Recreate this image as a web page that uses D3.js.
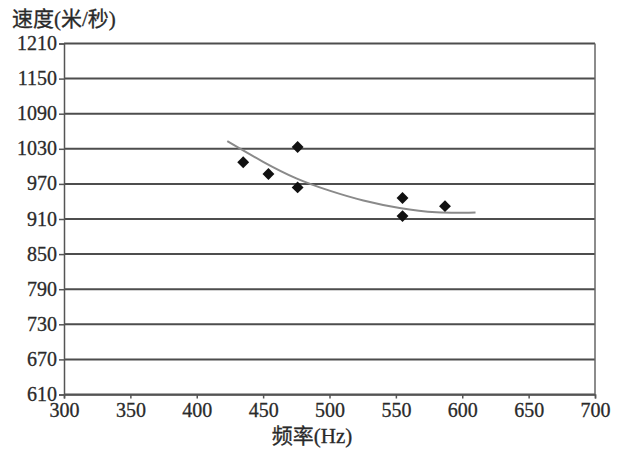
<!DOCTYPE html>
<html><head><meta charset="utf-8">
<script src="https://cdn.jsdelivr.net/npm/d3@7"></script>
<style>body{margin:0;background:#fff}svg{display:block}</style>
</head><body>
<script>
// Data
const xTicks = [300,350,400,450,500,550,600,650,700];
const yTicks = [610,670,730,790,850,910,970,1030,1090,1150,1210];
const freq  = [435, 454, 476, 476, 555, 555, 587];
const speed = [1007, 987, 1033, 964, 946, 915, 932];
const trendFreq  = [423, 450, 475, 500, 525, 553, 580, 610];
const trendSpeed = [1043, 1007, 978, 958, 941, 928, 920, 921];
const yTitle = "速度(米/秒)";
const xTitle = "频率(Hz)";

const W = 624, H = 452;
const m = {left:64, right:29, top:43.5, bottom:57.5};
const svg = d3.select("body").append("svg").attr("width",W).attr("height",H);
const x = d3.scaleLinear().domain([300,700]).range([m.left, W-m.right]);
const y = d3.scaleLinear().domain([610,1210]).range([H-m.bottom, m.top]);
const font = "'Liberation Serif','Noto Sans CJK SC',serif";
const txt = "#2a2a2a";

// grid lines
svg.append("g").selectAll("line").data(yTicks).join("line")
  .attr("x1",x(300)).attr("x2",x(700))
  .attr("y1",d=>y(d)).attr("y2",d=>y(d))
  .attr("stroke","#4d4d4d").attr("stroke-width",2);
// right border
svg.append("line").attr("x1",x(700)).attr("x2",x(700)).attr("y1",y(1210)).attr("y2",y(610))
  .attr("stroke","#666").attr("stroke-width",1.5);

// y axis
const ya = svg.append("g").attr("transform",`translate(${x(300)},0)`)
  .call(d3.axisLeft(y).tickValues(yTicks).tickSize(5).tickPadding(2).tickFormat(d3.format("d")));
ya.select(".domain").attr("stroke","#555").attr("stroke-width",1.5);
ya.selectAll(".tick line").attr("stroke","#555").attr("stroke-width",1.5);
ya.selectAll("text").style("font-family",font).style("font-size","20px")
  .attr("fill",txt).attr("stroke",txt).attr("stroke-width",0.3).attr("dy","0.3em");

// x axis
const xa = svg.append("g").attr("transform",`translate(0,${y(610)})`)
  .call(d3.axisBottom(x).tickValues(xTicks).tickSize(4).tickPadding(4).tickFormat(d3.format("d")));
xa.select(".domain").attr("stroke","#555").attr("stroke-width",1.5);
xa.selectAll(".tick line").attr("stroke","#555").attr("stroke-width",1.5);
xa.selectAll("text").style("font-family",font).style("font-size","20px")
  .attr("fill",txt).attr("stroke",txt).attr("stroke-width",0.3);

// trend line
const trend = trendFreq.map((f,i)=>[f,trendSpeed[i]]);
svg.append("path").datum(trend)
  .attr("d", d3.line().x(d=>x(d[0])).y(d=>y(d[1])).curve(d3.curveBasis))
  .attr("fill","none").attr("stroke","#8a8a8a").attr("stroke-width",2);

// points
const pts = freq.map((f,i)=>[f,speed[i]]);
svg.append("g").selectAll("path").data(pts).join("path")
  .attr("d", d3.symbol().type(d3.symbolDiamond2).size(90))
  .attr("transform", d=>`translate(${x(d[0])},${y(d[1])})`)
  .attr("fill","#111");

// titles
svg.append("text").attr("x",12).attr("y",26).text(yTitle)
  .style("font-family",font).style("font-size","21px")
  .attr("fill",txt).attr("stroke",txt).attr("stroke-width",0.3);
svg.append("text").attr("x",312).attr("y",443).attr("text-anchor","middle").text(xTitle)
  .style("font-family",font).style("font-size","21px")
  .attr("fill",txt).attr("stroke",txt).attr("stroke-width",0.3);
</script>
</body></html>
